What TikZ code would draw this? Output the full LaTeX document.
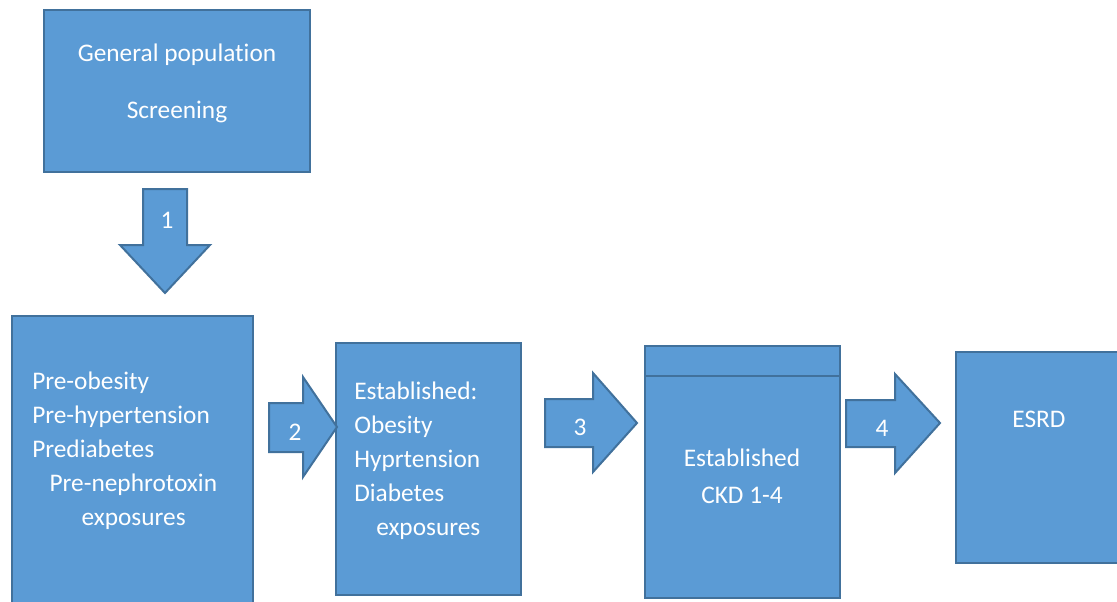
\documentclass[tikz,border=0pt]{standalone}
\usepackage{fontspec}
\setmainfont{Carlito}[Ligatures=NoCommon]
\usetikzlibrary{fit}
\definecolor{boxfill}{HTML}{5B9BD5}
\definecolor{boxline}{HTML}{41719C}
\tikzset{
  box/.style={draw=boxline, fill=boxfill, line width=1.5pt, inner sep=0pt},
  blockarrow/.style={draw=boxline, fill=boxfill, line width=1.5pt, line join=miter},
  txt/.style={text=white, inner sep=0pt, font={\fontsize{19}{25.5}\selectfont}}
}
\begin{document}
\begin{tikzpicture}[x=0.75pt, y=-0.75pt]
      \useasboundingbox (0,0) rectangle (1117,601);
      \clip (0,0) rectangle (1117,601);
      % boxes
      \node (gen) [box, fit={(44,10) (310,172)}] {};
      \node (pre) [box, fit={(12,316) (253,640)}] {};
      \node (est) [box, fit={(336,343) (521,595)}] {};
      \node (ckd) [box, fit={(645,346) (840,598)}] {};
      \node (esrd) [box, fit={(956,352) (1140,563)}] {};
      \draw[boxline, line width=1.5pt] (ckd.west |- 0,376) -- (ckd.east |- 0,376);
      % texts
      \node (genText) [txt, anchor=north, align=center] at (177,44) {
         General population\\[17pt]Screening
      };
      \node (preText) [txt, anchor=north west, align=left] at (32,372) {
         Pre-obesity\\Pre-hypertension\\Prediabetes\\
         \hspace*{13pt}Pre-nephrotoxin\\\hspace*{37pt}exposures
      };
      \node (estText) [txt, anchor=north west, align=left] at (354,382) {
         Established:\\Obesity\\Hyprtension\\Diabetes\\
         \hspace*{16.5pt}exposures
      };
      \node (ckdText) [txt, anchor=north, align=center] at (742,449) {
         Established\\[2pt]CKD 1-4
      };
      \node (esrdText) [txt] at (1039,419) {
         ESRD
      };
      % block arrows
      \draw[blockarrow] (143,189) -- (187,189) -- (187,245) -- (210,245)
         -- (165,293) -- (120,245) -- (143,245) -- cycle;
      \draw[blockarrow] (269,403) -- (303,403) -- (303,377) -- (337,427)
         -- (303,477) -- (303,452) -- (269,452) -- cycle;
      \draw[blockarrow] (545,399) -- (593,399) -- (593,373) -- (637,423)
         -- (593,472) -- (593,447) -- (545,447) -- cycle;
      \draw[blockarrow] (846,400) -- (895,400) -- (895,374) -- (940,423)
         -- (895,473) -- (895,447) -- (846,447) -- cycle;
      \node (one) [txt] at (167,220) {1};
      \node (two) [txt] at (295,432) {2};
      \node (three) [txt] at (580,427) {3};
      \node (four) [txt] at (882,428) {4};
\end{tikzpicture}
\end{document}
